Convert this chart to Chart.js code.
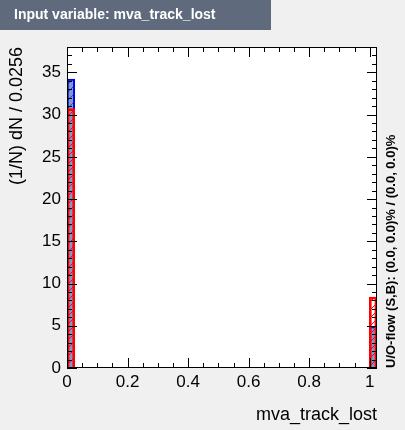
<!DOCTYPE html>
<html>
<head>
<meta charset="utf-8">
<script src="https://cdn.jsdelivr.net/npm/chart.js@4/dist/chart.umd.min.js"></script>
<style>
  html, body { margin: 0; padding: 0; background: #f0f0f0; }
  #wrap { width: 405px; height: 430px; position: relative; }
</style>
</head>
<body>
<div id="wrap"><canvas id="myChart" width="405" height="430"></canvas></div>
<script>
// histogram values, 40 bins of width 0.0256
var binWidth = 0.0256;
var nBins = 40;
var signalValues = [34.2, 0,0,0,0,0,0,0,0,0, 0,0,0,0,0,0,0,0,0,0, 0,0,0,0,0,0,0,0,0,0, 0,0,0,0,0,0,0,0,0, 4.9];
var backgroundValues = [30.7, 0,0,0,0,0,0,0,0,0, 0,0,0,0,0,0,0,0,0,0, 0,0,0,0,0,0,0,0,0,0, 0,0,0,0,0,0,0,0,0, 8.4];
var xTicks = [0, 0.2, 0.4, 0.6, 0.8, 1];
var yTicks = [0, 5, 10, 15, 20, 25, 30, 35];

function hatch(fill, line) {
    var c = document.createElement('canvas');
    c.width = 8; c.height = 8;
    var g = c.getContext('2d');
    if (fill) { g.fillStyle = fill; g.fillRect(0, 0, 8, 8); }
    g.strokeStyle = line; g.lineWidth = 1;
    g.beginPath();
    g.moveTo(0, 8); g.lineTo(8, 0);
    g.moveTo(-1, 1); g.lineTo(1, -1);
    g.moveTo(7, 9); g.lineTo(9, 7);
    g.stroke();
    return g.createPattern(c, 'repeat');
}

var ctx = document.getElementById('myChart').getContext('2d');
var centers = [];
for (var i = 0; i < nBins; i++) centers.push(binWidth * (i + 0.5));
var sigData = centers.map((x, i) => ({x: x, y: signalValues[i]}));
var bkgData = centers.map((x, i) => ({x: x, y: backgroundValues[i]}));

var rootStyle = {
    id: 'rootStyle',
    beforeDraw(chart) {
        var c = chart.ctx, a = chart.chartArea;
        c.save();
        c.fillStyle = '#ffffff';
        c.fillRect(a.left, a.top, a.right - a.left, a.bottom - a.top);
        c.restore();
    },
    afterDraw(chart) {
        var c = chart.ctx, a = chart.chartArea;
        var xs = chart.scales.x, ys = chart.scales.y;
        c.save();
        c.strokeStyle = '#000'; c.lineWidth = 1;
        c.strokeRect(a.left + 0.5, a.top + 0.5, a.right - a.left - 1, a.bottom - a.top - 1);
        c.beginPath();
        // x ticks (major + minor), inward, bottom and top
        for (var v = 0; v <= 1.0001; v += 0.05) {
            var px = Math.round(xs.getPixelForValue(v)) + 0.5;
            var major = Math.abs(v * 5 - Math.round(v * 5)) < 1e-6;
            var len = major ? 10 : 5;
            c.moveTo(px, a.bottom); c.lineTo(px, a.bottom - len);
            c.moveTo(px, a.top); c.lineTo(px, a.top + len);
        }
        // y ticks
        for (var w = 0; w <= 38; w += 1) {
            var py = Math.round(ys.getPixelForValue(w)) + 0.5;
            var len2 = (w % 5 === 0) ? 10 : 5;
            c.moveTo(a.left, py); c.lineTo(a.left + len2, py);
            c.moveTo(a.right, py); c.lineTo(a.right - len2, py);
        }
        c.stroke();
        // tick labels
        c.fillStyle = '#000';
        c.font = '17px "Liberation Sans", Arial, sans-serif';
        c.textAlign = 'right'; c.textBaseline = 'middle';
        yTicks.forEach(t => c.fillText(String(t), a.left - 6, ys.getPixelForValue(t)));
        c.textAlign = 'center'; c.textBaseline = 'top';
        xTicks.forEach(t => c.fillText(String(t), xs.getPixelForValue(t), a.bottom + 6));
        // axis titles
        c.font = '18px "Liberation Sans", Arial, sans-serif';
        c.textAlign = 'right'; c.textBaseline = 'alphabetic';
        c.fillText('mva_track_lost', a.right, 420);
        c.save();
        c.translate(17, a.top);
        c.rotate(-Math.PI / 2);
        c.textAlign = 'right'; c.textBaseline = 'middle';
        c.fillText('(1/N) dN / 0.0256', 0, 0);
        c.restore();
        c.save();
        c.translate(391, a.bottom);
        c.rotate(-Math.PI / 2);
        c.font = 'bold 13px "Liberation Sans", Arial, sans-serif';
        c.textAlign = 'left'; c.textBaseline = 'middle';
        c.fillText('U/O-flow (S,B): (0.0, 0.0)% / (0.0, 0.0)%', 0, 0);
        c.restore();
        // title box
        c.fillStyle = '#5f6b7d';
        c.fillRect(0, 0, 271, 30);
        c.fillStyle = '#ffffff';
        c.font = 'bold 14px "Liberation Sans", Arial, sans-serif';
        c.textAlign = 'left'; c.textBaseline = 'middle';
        c.fillText('Input variable: mva_track_lost', 14, 15);
        c.restore();
    }
};

var myChart = new Chart(ctx, {
    type: 'bar',
    data: {
        datasets: [{
            label: 'Signal',
            data: sigData,
            order: 2,
            backgroundColor: hatch('#7d99d1', '#3b4f7a'),
            borderColor: '#0000ee',
            borderWidth: 2,
            borderSkipped: 'bottom',
            grouped: false,
            barPercentage: 1,
            categoryPercentage: 1
        }, {
            label: 'Background',
            data: bkgData,
            order: 1,
            backgroundColor: hatch(null, '#ff0000'),
            borderColor: '#ff0000',
            borderWidth: 2,
            borderSkipped: 'bottom',
            grouped: false,
            barPercentage: 1,
            categoryPercentage: 1
        }]
    },
    options: {
        responsive: false,
        animation: false,
        layout: { padding: { top: 47, right: 28, left: 0, bottom: 0 } },
        plugins: { legend: { display: false }, tooltip: { enabled: false } },
        scales: {
            x: {
                type: 'linear', min: 0, max: binWidth * nBins, offset: false,
                grid: { display: false }, border: { display: false },
                ticks: { display: false },
                afterFit(s) { s.height = 62; }
            },
            y: {
                min: 0, max: 38,
                grid: { display: false }, border: { display: false },
                ticks: { display: false },
                afterFit(s) { s.width = 67; }
            }
        }
    },
    plugins: [rootStyle]
});
</script>
</body>
</html>
